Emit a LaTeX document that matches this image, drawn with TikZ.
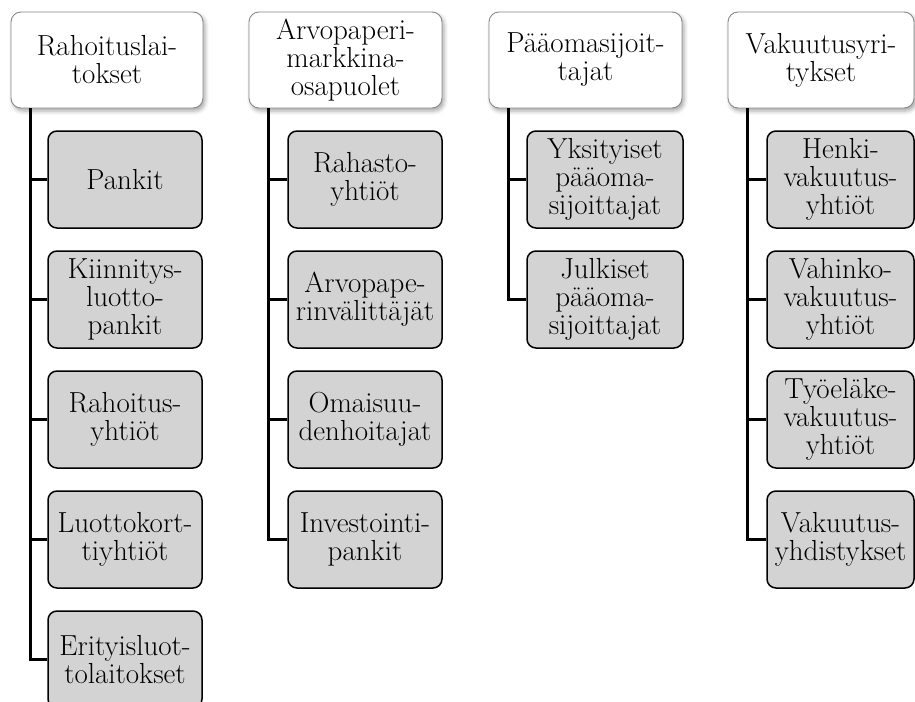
\documentclass[tikz,border=0pt]{standalone}
\usetikzlibrary{shadows.blur}
\definecolor{childfill}{HTML}{D3D3D3}
\definecolor{headline}{HTML}{8A8A8A}
\tikzset{
  headbox/.style={draw=headline, line width=0.9pt, fill=white, rounded corners=10pt,
    minimum height=96pt, inner sep=0pt, align=center,
    font=\fontsize{29}{28}\selectfont,
    blur shadow={shadow xshift=2pt, shadow yshift=-3pt, shadow blur radius=4pt, shadow opacity=35}},
  childbox/.style={draw=black, line width=1.5pt, fill=childfill, rounded corners=9pt,
    minimum height=97pt, inner sep=0pt, align=center,
    font=\fontsize{29}{28}\selectfont},
  trunk/.style={draw=black, line width=2.3pt}
}
\begin{document}
\begin{tikzpicture}[x=1pt, y=-1pt]
  \useasboundingbox (0,0) rectangle (915,701);
  \clip (0,0) rectangle (915,701);

  % column 1: financial institutions
  \node[headbox, minimum width=192pt] (h1) at (107,60) {Rahoituslai-\\tokset};
  \node[childbox, minimum width=154pt] (a1) at (125,179.5) {Pankit};
  \node[childbox, minimum width=154pt] (a2) at (125,299.5) {Kiinnitys-\\luotto-\\pankit};
  \node[childbox, minimum width=154pt] (a3) at (125,419.5) {Rahoitus-\\yhtiöt};
  \node[childbox, minimum width=154pt] (a4) at (125,539.5) {Luottokort-\\tiyhtiöt};
  \node[childbox, minimum width=154pt] (a5) at (125,659.5) {Erityisluot-\\tolaitokset};

  % column 2: securities market participants
  \node[headbox, minimum width=193pt] (h2) at (345.5,60) {Arvopaperi-\\markkina-\\osapuolet};
  \node[childbox, minimum width=154pt] (b1) at (365,179.5) {Rahasto-\\yhtiöt};
  \node[childbox, minimum width=154pt] (b2) at (365,299.5) {Arvopape-\\rinvälittäjät};
  \node[childbox, minimum width=154pt] (b3) at (365,419.5) {Omaisuu-\\denhoitajat};
  \node[childbox, minimum width=154pt] (b4) at (365,539.5) {Investointi-\\pankit};

  % column 3: capital investors
  \node[headbox, minimum width=193pt] (h3) at (585.5,60) {Pääomasijoit-\\tajat};
  \node[childbox, minimum width=156pt] (c1) at (605,179.5) {Yksityiset\\pääoma-\\sijoittajat};
  \node[childbox, minimum width=156pt] (c2) at (605,299.5) {Julkiset\\pääoma-\\sijoittajat};

  % column 4: insurance companies
  \node[headbox, minimum width=186pt] (h4) at (821,60) {Vakuutusyri-\\tykset};
  \node[childbox, minimum width=147pt] (d1) at (840.5,179.5) {Henki-\\vakuutus-\\yhtiöt};
  \node[childbox, minimum width=147pt] (d2) at (840.5,299.5) {Vahinko-\\vakuutus-\\yhtiöt};
  \node[childbox, minimum width=147pt] (d3) at (840.5,419.5) {Työeläke-\\vakuutus-\\yhtiöt};
  \node[childbox, minimum width=147pt] (d4) at (840.5,539.5) {Vakuutus-\\yhdistykset};

  % connectors: trunk down from each head, branch into each child
  \foreach \h/\list in {h1/{a1,a2,a3,a4,a5}, h2/{b1,b2,b3,b4}, h3/{c1,c2}, h4/{d1,d2,d3,d4}} {
    \foreach \c in \list {
      \draw[trunk] ([xshift=20pt]\h.south west) |- (\c.west);
    }
  }
\end{tikzpicture}
\end{document}
